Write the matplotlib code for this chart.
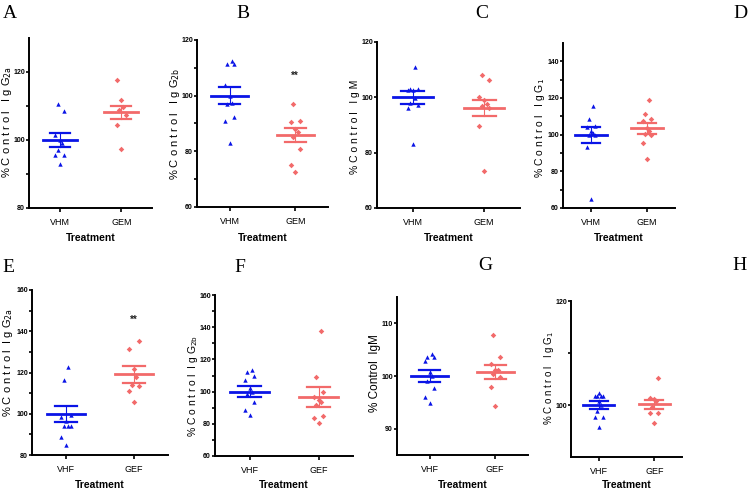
import matplotlib
matplotlib.use("Agg")
import matplotlib.pyplot as plt
import numpy as np

# ---- data (values in % of control) ----
groups_top = ["VHM", "GEM"]
groups_bottom = ["VHF", "GEF"]

a_ctrl = [110.7, 108.5, 101.5, 100.0, 99.0, 97.0, 95.6, 95.6, 93.0]
a_trt = [117.6, 111.9, 109.8, 108.8, 107.3, 104.4, 97.4]
a_mean = [100.0, 108.1]
a_sem = [2.0, 2.0]

b_ctrl = [112.5, 111.4, 111.4, 104.0, 100.0, 97.5, 97.0, 92.5, 91.0, 83.0]
b_trt = [97.0, 91.0, 90.5, 88.0, 87.0, 85.0, 81.0, 75.0, 72.5]
b_mean = [100.0, 86.0]
b_sem = [3.0, 2.5]

c_ctrl = [110.9, 103.1, 103.1, 102.5, 102.5, 99.9, 98.0, 97.1, 96.3, 83.1]
c_trt = [107.9, 106.1, 100.1, 98.9, 97.7, 96.8, 96.0, 89.6, 73.5]
c_mean = [100.0, 96.2]
c_sem = [2.4, 3.0]

d_ctrl = [115.5, 108.7, 104.5, 104.2, 102.0, 101.0, 100.0, 99.6, 93.3, 64.7]
d_trt = [118.7, 111.5, 108.7, 107.5, 103.8, 102.0, 100.5, 99.6, 95.5, 86.5]
d_mean = [100.0, 103.6]
d_sem = [4.3, 3.0]

e_ctrl = [122.6, 116.5, 99.2, 98.2, 96.6, 93.9, 93.9, 93.9, 88.5, 85.0]
e_trt = [135.5, 131.5, 121.8, 117.6, 114.1, 113.6, 110.8, 105.5]
e_mean = [100.0, 119.2]
e_sem = [4.0, 4.1]

f_ctrl = [113.5, 112.4, 110.0, 107.3, 102.0, 100.0, 98.3, 93.8, 88.6, 85.5]
f_trt = [137.8, 109.3, 100.0, 96.9, 94.8, 93.8, 91.7, 85.1, 83.8, 80.3]
f_mean = [100.0, 96.7]
f_sem = [3.3, 6.0]

g_ctrl = [104.1, 103.6, 103.6, 102.8, 100.7, 100.0, 99.1, 97.8, 96.0, 94.8]
g_trt = [107.8, 103.7, 102.3, 101.2, 101.1, 100.3, 99.8, 98.0, 94.3]
g_mean = [100.0, 100.8]
g_sem = [1.05, 1.3]

h_ctrl = [102.3, 101.8, 101.8, 101.8, 101.8, 100.8, 100.0, 98.9, 97.7, 97.7, 95.8]
h_trt = [105.2, 101.3, 101.2, 100.8, 99.7, 98.4, 98.4, 96.6]
h_mean = [100.0, 100.1]
h_sem = [0.7, 0.8]

BLUE = "#0a14e6"
RED = "#f26a6a"
W, H = 750, 493

fig = plt.figure(figsize=(7.5, 4.93), dpi=100)
fig.patch.set_facecolor("white")

sans = ["Liberation Sans", "DejaVu Sans"]


def px_axes(x0, y0, x1, y1):
    # pixel box (top-left origin) -> figure fraction axes
    return fig.add_axes([x0 / W, 1 - y1 / H, (x1 - x0) / W, (y1 - y0) / H])


def spread(vals):
    # small deterministic horizontal offsets so points do not sit on top of each other
    order = np.argsort(vals)
    off = np.zeros(len(vals))
    pattern = [0.0, -0.07, 0.07, -0.035, 0.035]
    for k, i in enumerate(order):
        off[i] = pattern[k % len(pattern)]
    return off


def panel(box, ctrl, trt, mean, sem, cats, ylim, majors, minors, ylabel,
          ylabel_xy, ylabel_size, letter, letter_xy, xlabel_y, stars=None):
    ax = px_axes(*box)
    for pos, vals, col, mk in [(0, ctrl, BLUE, "^"), (1, trt, RED, "D")]:
        vals = np.array(vals)
        ax.scatter(pos + spread(vals), vals, marker=mk, s=10 if mk == "^" else 8,
                   color=col, linewidths=0, zorder=3)
        m, s = mean[pos], sem[pos]
        ax.plot([pos - 0.28, pos + 0.28], [m, m], color=col, lw=2.0, zorder=4)
        ax.plot([pos - 0.16, pos + 0.16], [m + s, m + s], color=col, lw=1.6, zorder=4)
        ax.plot([pos - 0.16, pos + 0.16], [m - s, m - s], color=col, lw=1.6, zorder=4)
        ax.plot([pos, pos], [m - s, m + s], color=col, lw=0.8, zorder=4)
    if stars is not None:
        ax.text(1, stars, "**", ha="center", va="center", fontsize=7,
                color="#222222", family=sans, weight="bold")
    ax.set_xlim(-0.5, 1.5)
    ax.set_ylim(*ylim)
    ax.set_xticks([0, 1])
    ax.set_xticklabels(cats, family=sans, fontsize=6.5)
    ax.set_yticks(majors)
    ax.set_yticklabels([str(v) for v in majors], family=sans, fontsize=5, weight="bold")
    ax.set_yticks(minors, minor=True)
    for side in ["top", "right"]:
        ax.spines[side].set_visible(False)
    for side in ["left", "bottom"]:
        ax.spines[side].set_linewidth(1.4)
    ax.tick_params(axis="y", which="major", length=2.5, width=1.2, pad=0.5)
    ax.tick_params(axis="y", which="minor", length=2.5, width=1.2)
    ax.tick_params(axis="x", length=3, width=1.2, pad=4)
    cx = (box[0] + box[2]) / 2
    fig.text(cx / W, 1 - xlabel_y / H, "Treatment", ha="center", va="center",
             fontsize=7.5, family=sans, weight="bold")
    fig.text(ylabel_xy[0] / W, 1 - ylabel_xy[1] / H, ylabel, rotation=90,
             ha="center", va="center", fontsize=ylabel_size, family=sans)
    fig.text(letter_xy[0] / W, 1 - letter_xy[1] / H, letter, ha="center", va="center",
             fontsize=14, family=["Liberation Serif", "DejaVu Serif"])
    return ax


sp = "% C o n t r o l   I g G"
panel((29, 38, 152, 208), a_ctrl, a_trt, a_mean, a_sem, groups_top, (80, 130),
      [80, 100, 120], [90, 110], sp + r"$_{\mathrm{2a}}$", (7, 122), 8, "A", (10, 13), 238)
panel((197, 40, 328, 207), b_ctrl, b_trt, b_mean, b_sem, groups_top, (60, 120),
      [60, 80, 100, 120], [70, 90, 110], sp + r"$_{\mathrm{2b}}$", (175, 124), 8, "B", (243, 13), 238,
      stars=107)
panel((377, 42, 520, 208), c_ctrl, c_trt, c_mean, c_sem, groups_top, (60, 120),
      [60, 80, 100, 120], [], "% C o n t r o l   I g M", (355, 127), 7.5, "C", (482, 13), 238)
panel((563, 43, 675, 208), d_ctrl, d_trt, d_mean, d_sem, groups_top, (60, 150),
      [60, 80, 100, 120, 140], [70, 90, 110, 130], sp + r"$_{\mathrm{1}}$", (540, 128), 7.5, "D", (740, 13), 238)

sp2 = "% C o n t r o l  I g G"
panel((32, 290, 168, 455), e_ctrl, e_trt, e_mean, e_sem, groups_bottom, (80, 160),
      [80, 100, 120, 140, 160], [90, 110, 130, 150], sp2 + r"$_{\mathrm{2a}}$", (8, 363), 8, "E", (8, 268), 485,
      stars=145.6)
panel((215, 295, 353, 456), f_ctrl, f_trt, f_mean, f_sem, groups_bottom, (60, 160),
      [60, 80, 100, 120, 140, 160], [70, 90, 110, 130, 150], sp2 + r"$_{\mathrm{2b}}$", (193, 386), 7.5, "F", (240, 268), 485)
panel((397, 297, 528, 455), g_ctrl, g_trt, g_mean, g_sem, groups_bottom, (85, 115),
      [90, 100, 110], [], "% Control  IgM", (375, 373), 8.5, "G", (485, 266), 485)
panel((571, 301, 682, 457), h_ctrl, h_trt, h_mean, h_sem, groups_bottom, (90, 120),
      [100, 120], [110], "% C o n t r o l   I g G" + r"$_{\mathrm{1}}$", (549, 378), 7, "H", (740, 266), 485)

fig.savefig("out.png", dpi=100)
